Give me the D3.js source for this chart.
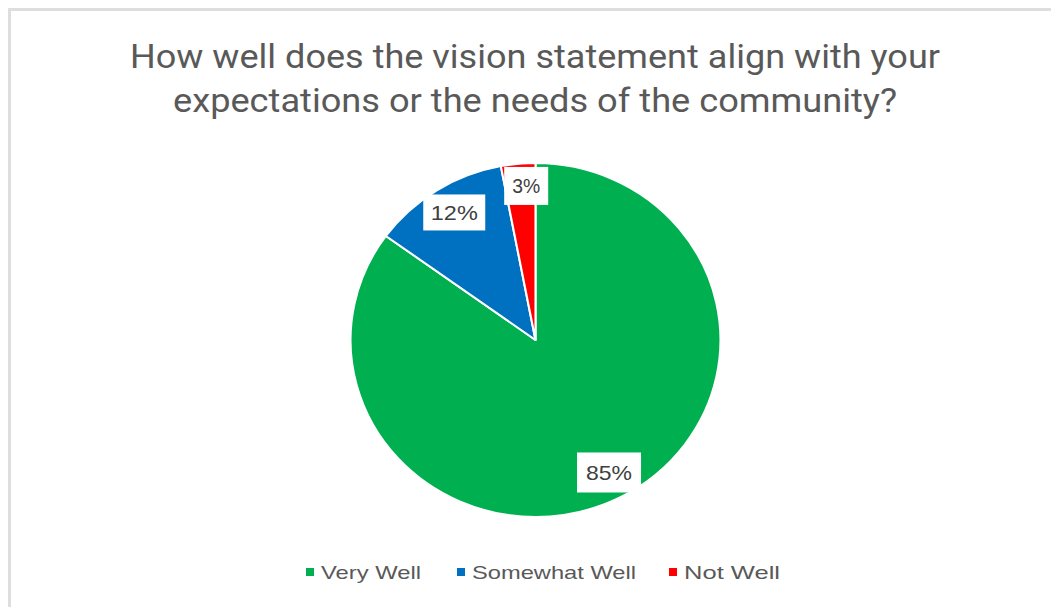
<!DOCTYPE html>
<html>
<head>
<meta charset="utf-8">
<script src="https://cdn.jsdelivr.net/npm/d3@7"></script>
<style>
  body { margin: 0; background: #fff; }
</style>
</head>
<body>
<div id="chart"></div>
<script>
///// DATA /////
var categories = ["Very Well", "Somewhat Well", "Not Well"];
var values = [85, 12, 3];
var colors = ["#00b050", "#0070c0", "#ff0000"];
var titleLines = ["How well does the vision statement align with your",
                  "expectations or the needs of the community?"];

var width = 1051;
var height = 607;

var svg = d3.select("#chart").append("svg")
  .attr("width", width)
  .attr("height", height);

svg.append("rect")
  .attr("width", "100%")
  .attr("height", "100%")
  .attr("fill", "#ffffff");

// chart frame (only top and left edges are visible in the crop)
svg.append("path")
  .attr("d", "M9.5," + height + "V9.5H" + width)
  .attr("fill", "none")
  .attr("stroke", "#dedede")
  .attr("stroke-width", 3);

// title
svg.selectAll(".title")
  .data(titleLines)
  .enter().append("text")
  .attr("class", "title")
  .attr("x", 535)
  .attr("y", function (d, i) { return 68 + i * 44; })
  .attr("text-anchor", "middle")
  .attr("textLength", function (d, i) { return i === 0 ? 810 : 724; })
  .attr("lengthAdjust", "spacingAndGlyphs")
  .style("font-family", "Roboto, 'Open Sans', sans-serif")
  .style("font-size", "34px")
  .style("fill", "#595959")
  .text(function (d) { return d; });

///// PIE /////
var cx = 535.5, cy = 340, r = 177;
var stretch = 1.045;

var data = categories.map(function (c, i) {
  return { name: c, value: values[i], color: colors[i] };
});

var pie = d3.pie()
  .sort(null)
  .value(function (d) { return d.value; });

var arc = d3.arc().innerRadius(0).outerRadius(r);

var arcs = pie(data);

var g = svg.append("g")
  .attr("transform", "translate(" + cx + "," + cy + ") scale(" + stretch + ",1)");

g.selectAll("path.slice")
  .data(arcs)
  .enter().append("path")
  .attr("class", "slice")
  .attr("d", arc)
  .attr("fill", function (d) { return d.data.color; })
  .attr("stroke", "#ffffff")
  .attr("stroke-width", 2)
  .attr("stroke-linejoin", "round");

// data labels - placed along each slice's mid angle, nudged like excel does
var labelRadius = [0.84, 0.84, 0.88];
var labelNudge = [[3, 0], [2, -2], [6, 1]];
var labelBox = [[64, 40], [62, 36], [44, 38]];
var labelLen = [46, 47, 28];

var labels = svg.selectAll(".dlabel")
  .data(arcs)
  .enter().append("g")
  .attr("class", "dlabel")
  .attr("transform", function (d, i) {
    var a = (d.startAngle + d.endAngle) / 2;
    var rr = r * labelRadius[i];
    var x = cx + Math.sin(a) * rr * stretch + labelNudge[i][0];
    var y = cy - Math.cos(a) * rr + labelNudge[i][1];
    return "translate(" + x + "," + y + ")";
  });

labels.append("rect")
  .attr("x", function (d, i) { return -labelBox[i][0] / 2; })
  .attr("y", function (d, i) { return -labelBox[i][1] / 2; })
  .attr("width", function (d, i) { return labelBox[i][0]; })
  .attr("height", function (d, i) { return labelBox[i][1]; })
  .attr("fill", "#ffffff");

labels.append("text")
  .attr("text-anchor", "middle")
  .attr("dy", "0.36em")
  .attr("textLength", function (d, i) { return labelLen[i]; })
  .attr("lengthAdjust", "spacingAndGlyphs")
  .style("font-family", "'Liberation Sans', Arial, sans-serif")
  .style("font-size", "21px")
  .style("fill", "#404040")
  .text(function (d) { return d.data.value + "%"; });

///// LEGEND /////
var legendX = [306, 457, 669];
var legendLen = [100, 164, 96];
var legendY = 572;

var legend = svg.selectAll(".legend")
  .data(data)
  .enter().append("g")
  .attr("class", "legend")
  .attr("transform", function (d, i) { return "translate(" + legendX[i] + "," + legendY + ")"; });

legend.append("rect")
  .attr("x", 0)
  .attr("y", -4)
  .attr("width", 8)
  .attr("height", 8)
  .attr("fill", function (d) { return d.color; });

legend.append("text")
  .attr("x", 15)
  .attr("dy", "0.35em")
  .attr("textLength", function (d, i) { return legendLen[i]; })
  .attr("lengthAdjust", "spacingAndGlyphs")
  .style("font-family", "'Liberation Sans', Arial, sans-serif")
  .style("font-size", "19px")
  .style("fill", "#595959")
  .text(function (d) { return d.name; });
</script>
</body>
</html>
